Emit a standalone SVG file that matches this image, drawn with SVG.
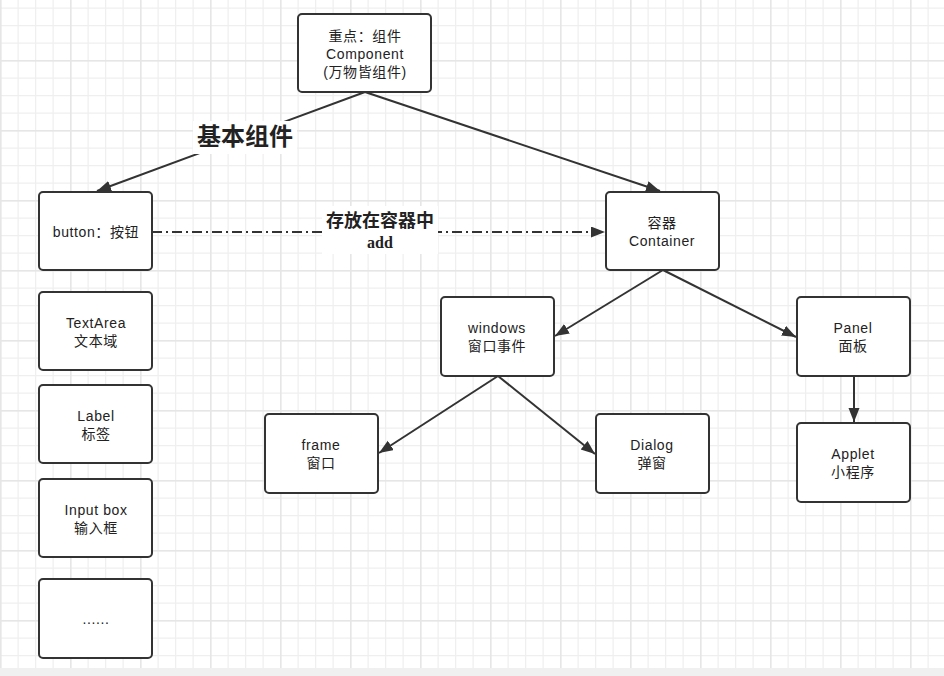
<svg xmlns="http://www.w3.org/2000/svg" width="944" height="676" viewBox="0 0 944 676">
<style>
.node rect{fill:#fff;stroke:#333;stroke-width:2}
.node text{font-family:"Liberation Sans","Noto Sans CJK SC",sans-serif;font-size:14px;fill:#222;text-anchor:middle;letter-spacing:0.6px}
.edge{fill:none;stroke:#333;stroke-width:2}
.lbl{font-family:"Noto Sans CJK SC",sans-serif;font-weight:bold;fill:#222;text-anchor:middle}
</style>
<defs>
<pattern id="grid" patternUnits="userSpaceOnUse" x="0" y="-10" width="70" height="70">
<rect x="0" y="0" width="70" height="70" fill="#fff"/>
<rect x="17.5" y="0" width="1.2" height="70" fill="#efefef"/>
<rect x="35" y="0" width="1.2" height="70" fill="#efefef"/>
<rect x="52.5" y="0" width="1.2" height="70" fill="#efefef"/>
<rect x="0" y="17.5" width="70" height="1.2" fill="#efefef"/>
<rect x="0" y="35" width="70" height="1.2" fill="#efefef"/>
<rect x="0" y="52.5" width="70" height="1.2" fill="#efefef"/>
<rect x="0" y="0" width="1.6" height="70" fill="#e6e6e6"/>
<rect x="0" y="0" width="70" height="1.6" fill="#e6e6e6"/>
</pattern>
<marker id="arr" markerUnits="userSpaceOnUse" markerWidth="16" markerHeight="12" refX="14" refY="5.5" orient="auto">
<path d="M0,0 L14,5.5 L0,11 Z" fill="#333"/>
</marker>
</defs>
<rect x="0" y="0" width="944" height="676" fill="url(#grid)"/>
<rect x="0" y="668" width="944" height="8" fill="#f0f0f0"/>

<g id="connectors">
<line class="edge" x1="365" y1="92" x2="97" y2="191" marker-end="url(#arr)"/>
<line class="edge" x1="365" y1="92" x2="660" y2="191" marker-end="url(#arr)"/>
<line class="edge" x1="152" y1="232" x2="605" y2="232" stroke-dasharray="10 4 2 4" marker-end="url(#arr)"/>
<line class="edge" x1="663" y1="270" x2="555" y2="336" marker-end="url(#arr)"/>
<line class="edge" x1="663" y1="270" x2="796" y2="337" marker-end="url(#arr)"/>
<line class="edge" x1="498" y1="376" x2="379" y2="453" marker-end="url(#arr)"/>
<line class="edge" x1="498" y1="376" x2="595" y2="454" marker-end="url(#arr)"/>
<line class="edge" x1="854" y1="376" x2="854" y2="422" marker-end="url(#arr)"/>
<rect x="193" y="121" width="104" height="33" fill="#fff"/>
<text class="lbl" x="245" y="145" font-size="24">基本组件</text>
<rect x="322" y="206" width="116" height="48" fill="#fff"/>
<text class="lbl" x="380" y="227" font-size="18">存放在容器中</text>
<text x="380" y="248" font-family="Liberation Serif,serif" font-weight="bold" font-size="16" fill="#222" text-anchor="middle">add</text>
</g>

<g id="n-component" class="node"><rect x="298" y="14" width="133" height="78" rx="4"/>
<text x="365" y="41">重点：组件</text><text x="365" y="59">Component</text><text x="365" y="77">(万物皆组件)</text></g>
<g id="n-button" class="node"><rect x="39" y="192" width="113" height="78" rx="4"/>
<text x="96" y="237">button：按钮</text></g>
<g id="n-textarea" class="node"><rect x="39" y="292" width="113" height="78" rx="4"/>
<text x="96" y="328">TextArea</text><text x="96" y="346">文本域</text></g>
<g id="n-label" class="node"><rect x="39" y="385" width="113" height="78" rx="4"/>
<text x="96" y="421">Label</text><text x="96" y="439">标签</text></g>
<g id="n-input" class="node"><rect x="39" y="479" width="113" height="78" rx="4"/>
<text x="96" y="515">Input box</text><text x="96" y="533">输入框</text></g>
<g id="n-more" class="node"><rect x="39" y="579" width="113" height="79" rx="4"/>
<text x="96" y="624">......</text></g>
<g id="n-container" class="node"><rect x="606" y="192" width="113" height="78" rx="4"/>
<text x="662" y="228">容器</text><text x="662" y="246">Container</text></g>
<g id="n-windows" class="node"><rect x="441" y="297" width="113" height="79" rx="4"/>
<text x="497" y="333">windows</text><text x="497" y="351">窗口事件</text></g>
<g id="n-panel" class="node"><rect x="797" y="297" width="113" height="79" rx="4"/>
<text x="853" y="333">Panel</text><text x="853" y="351">面板</text></g>
<g id="n-frame" class="node"><rect x="265" y="414" width="113" height="79" rx="4"/>
<text x="321" y="450">frame</text><text x="321" y="468">窗口</text></g>
<g id="n-dialog" class="node"><rect x="596" y="414" width="113" height="79" rx="4"/>
<text x="652" y="450">Dialog</text><text x="652" y="468">弹窗</text></g>
<g id="n-applet" class="node"><rect x="797" y="423" width="113" height="79" rx="4"/>
<text x="853" y="459">Applet</text><text x="853" y="477">小程序</text></g>
</svg>
